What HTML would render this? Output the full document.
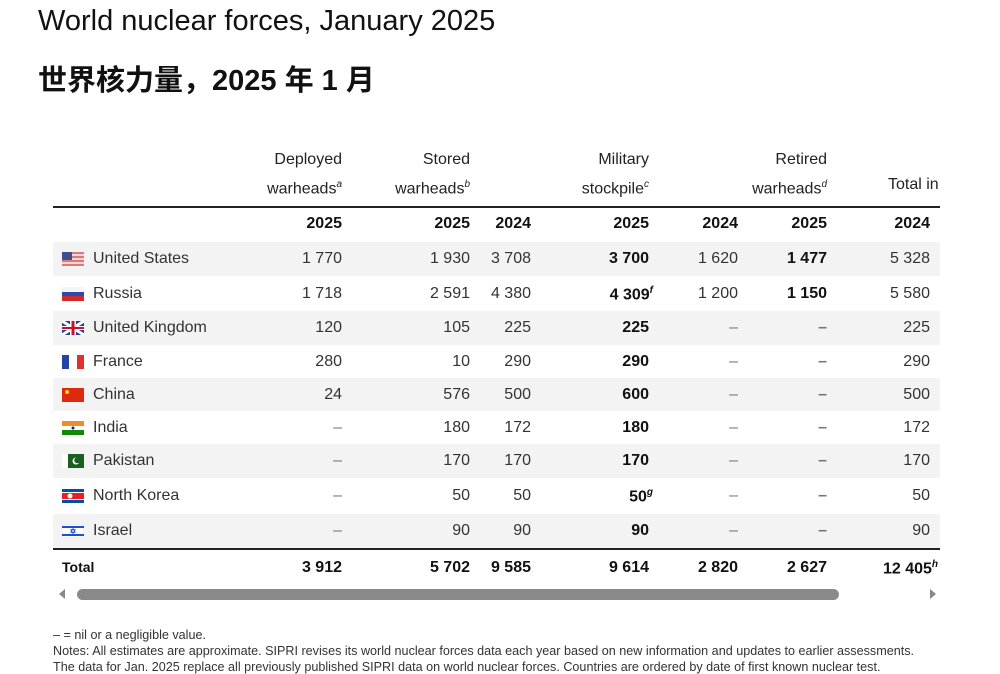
<!DOCTYPE html>
<html><head><meta charset="utf-8"><style>
body{margin:0;width:1000px;height:667px;background:#fff;font-family:"Liberation Sans","Noto Sans CJK SC",sans-serif;color:#222;overflow:hidden;position:relative}
.a{position:absolute;white-space:nowrap}
.r{text-align:right}
.t1{left:38px;top:5px;font-size:29px;color:#111}
.t2{left:38px;top:57px;font-size:29px;font-weight:bold;color:#111}
.h{font-size:16px;line-height:26px;color:#222}
.cell{font-size:16px;color:#333}
.b{font-weight:bold;color:#111}
.row{position:absolute;left:53px;width:887px;height:34px}
sup{font-style:italic;font-size:10px}
.fn{font-size:12.6px;color:#333}
</style></head><body>
<div class="a t1">World nuclear forces, January 2025</div>
<div class="a t2">世界核力量，2025 年 1 月</div>
<div id="t"></div>
<div class="a" style="left:59px;top:589px;width:0;height:0;border-top:5px solid transparent;border-bottom:5px solid transparent;border-right:6px solid #888"></div>
<div class="a" style="left:77px;top:589px;width:762px;height:11px;border-radius:6px;background:#8a8a8a"></div>
<div class="a" style="left:930px;top:589px;width:0;height:0;border-top:5px solid transparent;border-bottom:5px solid transparent;border-left:6px solid #888"></div>
<div class="a fn" style="left:53px;top:628px">– = nil or a negligible value.</div>
<div class="a fn" style="left:53px;top:644px">Notes: All estimates are approximate. SIPRI revises its world nuclear forces data each year based on new information and updates to earlier assessments.</div>
<div class="a fn" style="left:53px;top:660px">The data for Jan. 2025 replace all previously published SIPRI data on world nuclear forces. Countries are ordered by date of first known nuclear test.</div>
<script>
const countries=["United States","Russia","United Kingdom","France","China","India","Pakistan","North Korea","Israel"];
const deployed=["1 770","1 718","120","280","24","–","–","–","–"];
const stored=["1 930","2 591","105","10","576","180","170","50","90"];
const mil2024=["3 708","4 380","225","290","500","172","170","50","90"];
const mil2025=["3 700","4 309","225","290","600","180","170","50","90"];
const ret2024=["1 620","1 200","–","–","–","–","–","–","–"];
const ret2025=["1 477","1 150","–","–","–","–","–","–","–"];
const tot2024=["5 328","5 580","225","290","500","172","170","50","90"];
const totals=["3 912","5 702","9 585","9 614","2 820","2 627","12 405"];
const rights=[342,470,531,649,738,827,930];
const t=document.getElementById('t');
function add(html,cls,style,name){const d=document.createElement('div');d.className=cls;d.style.cssText=style;d.innerHTML=html;


t.appendChild(d);return d;}
const heads=[["Deployed","warheads<sup>a</sup>",342],["Stored","warheads<sup>b</sup>",470],["Military","stockpile<sup>c</sup>",649],["Retired","warheads<sup>d</sup>",827]];
heads.forEach((h,i)=>add(h[0]+"<br>"+h[1],"a h r","right:"+(1000-h[2])+"px;top:147px;line-height:25px","column-header-"+i));
add("Total in","a h","left:888px;top:172px;width:55px;overflow:hidden;line-height:25px","column-header-total");
add("","a","left:53px;top:206px;width:887px;height:2px;background:#222","header-rule");
const years=["2025","2025","2024","2025","2024","2025","2024"];
years.forEach((y,i)=>add(y,"a cell b r","right:"+(1000-rights[i])+"px;top:215px","year-header-"+i));
const flags=[
'<svg width="22" height="14"><rect width="22" height="14" fill="#d87a7a"/><rect y="2" width="22" height="2" fill="#f3d5d5"/><rect y="6" width="22" height="2" fill="#f3d5d5"/><rect y="10" width="22" height="2" fill="#f3d5d5"/><rect width="10" height="8" fill="#3c4f8f"/></svg>',
'<svg width="22" height="14"><rect width="22" height="5" fill="#f5f5f5"/><rect y="5" width="22" height="4" fill="#2a4ab0"/><rect y="9" width="22" height="5" fill="#d02b2b"/></svg>',
'<svg width="22" height="14"><rect width="22" height="14" fill="#2d3f8a"/><path d="M0 0L22 14M22 0L0 14" stroke="#fff" stroke-width="3"/><rect x="8" width="6" height="14" fill="#fff"/><rect y="5" width="22" height="4" fill="#fff"/><rect x="9.5" width="3" height="14" fill="#c8102e"/><rect y="6" width="22" height="2" fill="#c8102e"/></svg>',
'<svg width="22" height="14"><rect width="7" height="14" fill="#2343a5"/><rect x="7" width="8" height="14" fill="#fff"/><rect x="15" width="7" height="14" fill="#e03030"/></svg>',
'<svg width="22" height="14"><rect width="22" height="14" fill="#de2910"/><circle cx="5" cy="4" r="2" fill="#ffde00"/></svg>',
'<svg width="22" height="14"><rect width="22" height="5" fill="#f28c28"/><rect y="5" width="22" height="4" fill="#fff"/><rect y="9" width="22" height="5" fill="#138808"/><circle cx="11" cy="7" r="1.5" fill="#1a237e"/></svg>',
'<svg width="22" height="14"><rect width="22" height="14" fill="#1b5e20"/><rect width="6" height="14" fill="#fff"/><circle cx="14" cy="7" r="3.5" fill="#fff"/><circle cx="15.3" cy="6.2" r="3" fill="#1b5e20"/></svg>',
'<svg width="22" height="14"><rect width="22" height="14" fill="#024fa2"/><rect y="3" width="22" height="8" fill="#fff"/><rect y="4" width="22" height="6" fill="#ed1c27"/><circle cx="8" cy="7" r="2.5" fill="#fff"/></svg>',
'<svg width="22" height="14"><rect width="22" height="14" fill="#fff" stroke="#ddd"/><rect y="2" width="22" height="2" fill="#1d4ed8"/><rect y="10" width="22" height="2" fill="#1d4ed8"/><path d="M11 4.5L13.2 8.3H8.8ZM11 9.5L8.8 5.7H13.2Z" fill="none" stroke="#1d4ed8" stroke-width="0.8"/></svg>'];
const rowTops=[242,277,311,345,378,411,444,479,514];
countries.forEach((c,i)=>{
 const top=rowTops[i];
 add("","row","top:"+top+"px;height:34px;background:"+(i%2==0?"#f3f3f3":"#fff"),"row-"+c.toLowerCase().replace(/ /g,'-'));
 add(flags[i],"a","left:62px;top:"+(top+10)+"px;line-height:0","flag-"+i);
 add(c,"a cell","left:93px;top:"+(top+8)+"px","country-name-"+i);
 const vals=[deployed[i],stored[i],mil2024[i],mil2025[i],ret2024[i],ret2025[i],tot2024[i]];
 vals.forEach((v,j)=>{
  let txt=v; if(j==3&&i==1)txt+="<sup>f</sup>"; if(j==3&&i==7)txt+="<sup>g</sup>";
  const bold=(j==3||j==5);
  const dash=v=="–";
  const rr=(j==3&&(i==1||i==7))?rights[j]+4:rights[j];
  add(txt,"a cell r"+(bold?" b":""),"right:"+(1000-rr)+"px;top:"+(top+8)+"px"+(dash?";color:#777":""),"cell-"+i+"-"+j);
 });
});
add("","a","left:53px;top:548px;width:887px;height:2px;background:#222","total-rule");
add("Total","a cell b","left:62px;top:559px;font-size:14px","total-label");
totals.forEach((v,j)=>add(v+(j==6?"<sup>h</sup>":""),"a cell b r","right:"+(1000-rights[j]-(j==6?8:0))+"px;top:559px","total-"+j));
</script>
</body></html>
